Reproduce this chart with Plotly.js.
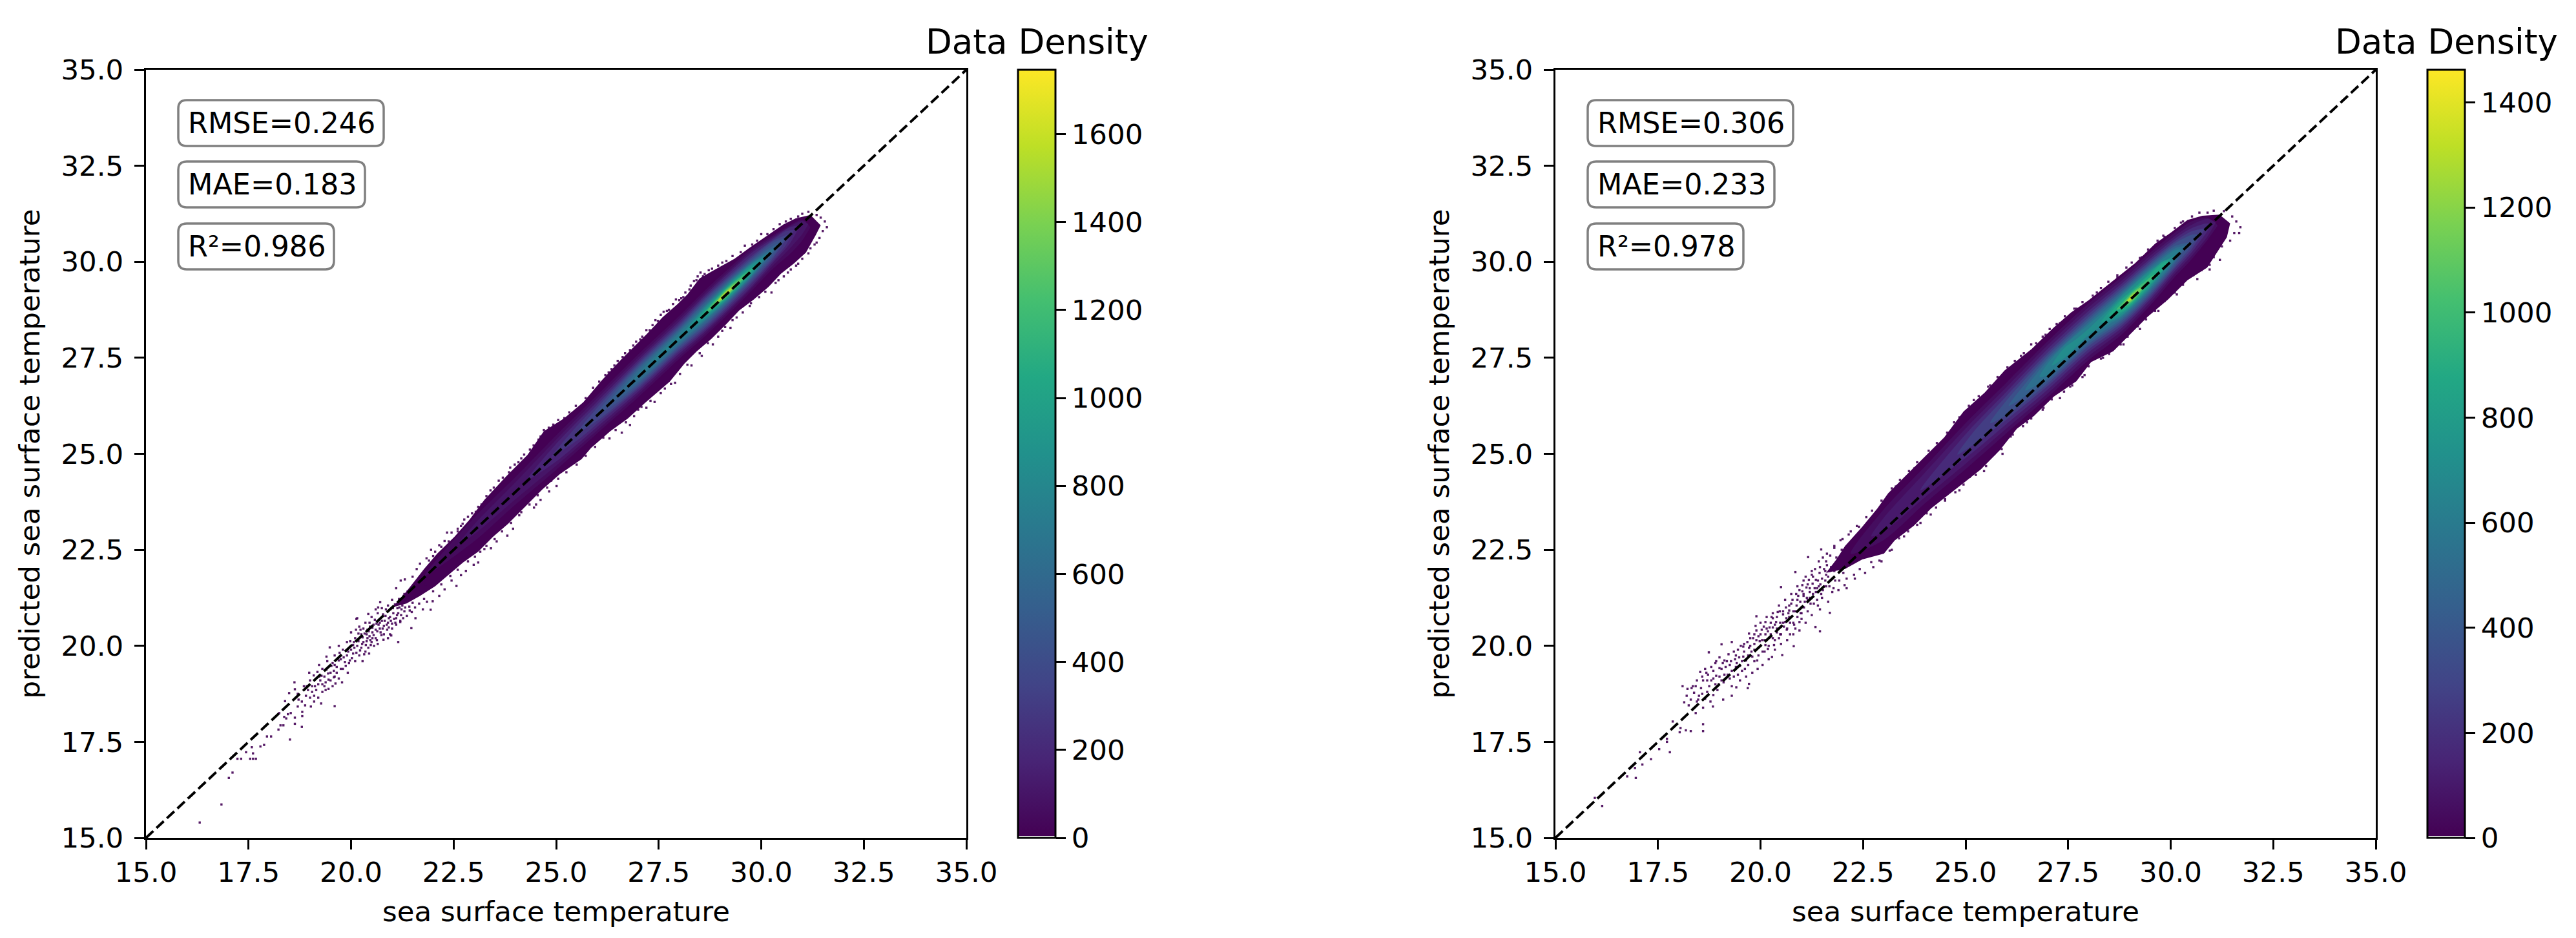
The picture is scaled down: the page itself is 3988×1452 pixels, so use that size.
<!DOCTYPE html>
<html><head><meta charset="utf-8">
<script src="https://cdn.plot.ly/plotly-3.0.1.min.js"></script>
<style>html,body{margin:0;padding:0;background:#fff}</style>
</head><body><div id="chart" style="width:3988px;height:1452px"></div>
<script>
// ---------- values ----------
const axisTicks = [15,17.5,20,22.5,25,27.5,30,32.5,35];
const metricsA = ['RMSE=0.246','MAE=0.183','R²=0.986'];
const metricsB = ['RMSE=0.306','MAE=0.233','R²=0.978'];
const densityTicksA = [0,200,400,600,800,1000,1200,1400,1600];
const densityTicksB = [0,200,400,600,800,1000,1200,1400];
const densityMaxA = 1746;
const densityMaxB = 1462;
const sparseDensity = 8;

// outer limit of the solid band (x, y vertices)
const outerA = [[21.0,21.0],[21.3,21.35],[21.5,21.62],[21.78,22.0],[22.1,22.4],[22.52,22.84],[22.89,23.29],[23.25,23.8],[23.78,24.41],[24.3,24.97],[24.7,25.59],[25.19,25.92],[25.66,26.34],[26.12,26.92],[26.57,27.44],[26.94,27.84],[27.23,28.14],[27.6,28.56],[27.96,28.9],[28.2,29.15],[28.5,29.57],[28.86,29.79],[29.35,30.08],[29.71,30.36],[30.07,30.63],[30.54,30.97],[30.84,31.13],[31.2,31.22],[31.45,30.95],[31.33,30.7],[31.09,30.24],[30.8,29.96],[30.48,29.69],[30.18,29.35],[29.82,29.02],[29.46,28.73],[29.16,28.39],[28.79,28.0],[28.43,27.67],[28.13,27.35],[27.77,26.88],[27.17,26.33],[26.75,25.92],[26.32,25.59],[25.85,25.15],[25.62,24.86],[25.09,24.47],[24.67,24.08],[24.25,23.63],[23.83,23.18],[23.46,22.84],[23.1,22.45],[22.73,22.17],[22.36,21.84],[22.05,21.55],[21.68,21.3],[21.35,21.1]];
const outerB = [[21.6,21.9],[21.85,22.25],[22.06,22.6],[22.48,23.1],[22.85,23.58],[23.11,23.97],[23.53,24.42],[24.0,24.92],[24.48,25.43],[24.95,26.1],[25.47,26.6],[25.95,27.17],[26.61,27.73],[27.15,28.29],[27.57,28.68],[28.0,29.0],[28.54,29.46],[29.14,29.97],[29.62,30.47],[29.99,30.75],[30.41,31.09],[30.77,31.2],[31.19,31.23],[31.45,31.0],[31.37,30.64],[31.13,30.25],[30.89,29.85],[30.41,29.52],[29.93,29.01],[29.44,28.57],[29.02,28.12],[28.6,27.67],[28.06,27.39],[27.7,26.89],[27.15,26.49],[26.67,25.99],[26.25,25.65],[25.83,25.09],[25.37,24.59],[24.69,24.03],[24.16,23.58],[23.74,23.13],[23.27,22.74],[23.01,22.4],[22.48,22.25],[22.06,22.0],[21.85,21.95]];

// density contours: each row is [x, lower y, upper y]
const levelsA = [50,100,175,260,350,440,525,610,700,790,875,1000,1150,1300,1450,1600];
const contoursA = [
[[21.8,21.83,21.83],[23,22.72,23.34],[24,23.67,24.39],[25,24.58,25.48],[26,25.53,26.53],[27,26.47,27.59],[28,27.47,28.59],[28.6,28.03,29.23],[29.2,28.64,29.82],[29.8,29.28,30.38],[30.3,29.83,30.7],[30.7,30.2,30.95],[31,30.55,31.1],[31.2,30.9,30.9]],
[[22.6,22.63,22.63],[23,22.9,23.16],[24,23.81,24.25],[25,24.69,25.37],[26,25.61,26.45],[27,26.55,27.51],[28,27.54,28.52],[28.6,28.1,29.16],[29.2,28.71,29.75],[29.8,29.35,30.31],[30.3,29.92,30.66],[30.7,30.35,30.92],[31,30.72,31.07],[31.15,30.98,30.98]],
[[24.3,24.33,24.33],[25,24.8,25.26],[26,25.7,26.36],[27,26.62,27.44],[28,27.61,28.45],[28.6,28.16,29.1],[29.2,28.76,29.7],[29.8,29.4,30.26],[30.3,30.0,30.62],[30.7,30.48,30.9],[30.95,30.95,30.95]],
[[24.9,24.93,24.93],[25.5,25.34,25.72],[26,25.78,26.28],[27,26.68,27.38],[28,27.67,28.39],[28.6,28.21,29.05],[29.2,28.82,29.64],[29.8,29.47,30.19],[30.3,30.05,30.58],[30.6,30.43,30.8],[30.8,30.83,30.83]],
[[25.5,25.53,25.53],[26,25.86,26.2],[27,26.73,27.33],[28,27.72,28.34],[28.6,28.26,29.0],[29.2,28.87,29.59],[29.8,29.52,30.14],[30.3,30.11,30.55],[30.7,30.73,30.73]],
[[25.95,25.98,25.98],[26.5,26.34,26.72],[27,26.78,27.28],[28,27.77,28.29],[28.6,28.31,28.95],[29.2,28.91,29.55],[29.8,29.57,30.09],[30.3,30.16,30.5],[30.6,30.63,30.63]],
[[26.25,26.28,26.28],[26.7,26.57,26.89],[27,26.83,27.23],[28,27.81,28.25],[28.6,28.35,28.91],[29.2,28.95,29.51],[29.8,29.61,30.05],[30.2,30.1,30.36],[30.5,30.53,30.53]],
[[26.55,26.58,26.58],[27,26.88,27.18],[28,27.85,28.21],[28.6,28.4,28.86],[29.2,28.98,29.48],[29.8,29.64,30.02],[30.1,30.02,30.24],[30.4,30.43,30.43]],
[[26.85,26.88,26.88],[27.2,27.14,27.32],[27.6,27.52,27.74],[28,27.9,28.16],[28.6,28.44,28.82],[29.2,29.01,29.45],[29.8,29.67,29.99],[30.3,30.33,30.33]],
[[27.3,27.33,27.33],[27.7,27.69,27.77],[28.1,28.08,28.18],[28.6,28.47,28.79],[29.2,29.04,29.42],[29.8,29.69,29.97],[30.15,30.18,30.18]],
[[28.2,28.23,28.23],[28.6,28.51,28.75],[29.2,29.06,29.4],[29.8,29.72,29.94],[30.05,30.08,30.08]],
[[28.38,28.41,28.41],[28.7,28.64,28.82],[29.15,29.04,29.32],[29.7,29.65,29.81],[29.93,29.96,29.96]],
[[28.55,28.58,28.58],[28.8,28.76,28.9],[29.15,29.07,29.3],[29.55,29.51,29.65],[29.8,29.83,29.83]],
[[28.7,28.73,28.73],[28.92,28.9,29.0],[29.15,29.09,29.27],[29.42,29.4,29.5],[29.6,29.63,29.63]],
[[28.82,28.85,28.85],[28.96,28.95,29.03],[29.13,29.1,29.22],[29.3,29.29,29.37],[29.42,29.45,29.45]],
[[28.96,28.99,28.99],[29.13,29.125,29.195],[29.3,29.33,29.33]]
];
const levelsB = [50,100,175,260,350,440,525,610,700,790,875,1000,1150,1300,1400];
const contoursB = [
[[22.2,22.4,22.4],[23,22.75,23.55],[24,23.7,24.66],[25,24.6,25.8],[26,25.54,26.86],[27,26.47,27.93],[28,27.44,28.92],[28.8,28.1,29.6],[29.5,28.86,30.24],[30.1,29.6,30.76],[30.5,30.05,31.05],[30.9,30.57,31.15],[31.15,30.95,30.95]],
[[22.7,22.85,22.85],[23,22.97,23.33],[24,23.86,24.5],[25,24.74,25.66],[26,25.66,26.74],[27,26.57,27.83],[28,27.54,28.82],[28.8,28.19,29.51],[29.5,28.94,30.16],[30.1,29.69,30.67],[30.5,30.14,30.96],[30.9,30.66,31.12],[31.1,31.02,31.02]],
[[23.9,24.05,24.05],[25,24.89,25.51],[26,25.78,26.62],[27,26.67,27.73],[28,27.64,28.72],[28.8,28.27,29.43],[29.5,29.02,30.08],[30.1,29.76,30.6],[30.5,30.23,30.87],[30.9,30.8,31.0],[31.0,30.95,30.95]],
[[24.8,24.98,24.98],[25.2,25.24,25.58],[26,25.89,26.51],[27,26.76,27.64],[28,27.72,28.64],[28.8,28.34,29.36],[29.5,29.08,30.02],[30.1,29.83,30.53],[30.5,30.31,30.79],[30.85,30.88,30.88]],
[[25.6,25.8,25.8],[26,26.01,26.39],[27,26.83,27.57],[28,27.8,28.56],[28.8,28.4,29.3],[29.5,29.14,29.96],[30.1,29.88,30.48],[30.5,30.4,30.7],[30.7,30.72,30.72]],
[[26.05,26.25,26.25],[26.5,26.53,26.89],[27,26.9,27.5],[28,27.86,28.5],[28.8,28.46,29.24],[29.5,29.19,29.91],[30.1,29.95,30.41],[30.45,30.5,30.5]],
[[26.45,26.65,26.65],[27,26.97,27.43],[28,27.93,28.43],[28.8,28.51,29.19],[29.5,29.24,29.86],[30.1,30.01,30.35],[30.35,30.42,30.42]],
[[26.8,27.0,27.0],[27,27.05,27.35],[27.4,27.4,27.82],[28,27.99,28.37],[28.5,28.37,28.83],[28.8,28.56,29.14],[29.5,29.29,29.81],[30.1,30.06,30.3],[30.25,30.33,30.33]],
[[27.1,27.3,27.3],[27.4,27.49,27.75],[27.7,27.79,27.99],[28,28.1,28.26],[28.5,28.43,28.77],[28.8,28.6,29.1],[29.5,29.33,29.77],[30.1,30.18,30.18]],
[[28.3,28.42,28.42],[28.5,28.49,28.71],[28.8,28.66,29.04],[29.05,28.87,29.27],[29.5,29.38,29.72],[29.8,29.75,30.01],[30.0,30.08,30.08]],
[[28.5,28.6,28.6],[28.8,28.7,29.0],[29.05,28.9,29.24],[29.5,29.42,29.68],[29.8,29.8,29.96],[29.95,30.02,30.02]],
[[28.68,28.75,28.75],[28.85,28.81,28.97],[29.05,28.94,29.2],[29.35,29.3,29.46],[29.5,29.5,29.6],[29.62,29.68,29.68]],
[[28.83,28.87,28.87],[28.95,28.92,29.04],[29.05,28.98,29.16],[29.2,29.15,29.29],[29.34,29.37,29.37]],
[[28.93,28.96,28.96],[29.05,29.02,29.12],[29.2,29.23,29.23]],
[[29.0,29.02,29.02],[29.05,29.05,29.09],[29.1,29.12,29.12]]
];

// sparse single points
const sparseA = [[16.31,15.4],[16.84,15.87],[17.02,16.56],[17.11,16.7],[17.23,17.06],[17.32,17.06],[17.44,17.23],[17.54,17.06],[17.61,17.06],[17.68,17.06],[17.61,17.2],[17.58,17.36],[17.79,17.38],[17.88,17.42],[17.95,17.64],[18.05,17.64],[18.51,17.56],[18.23,17.82],[18.28,17.93],[18.35,17.93],[18.63,17.97],[18.8,17.89],[18.25,18.25],[18.46,18.22],[18.53,18.25],[18.81,18.28],[18.81,18.17],[18.63,18.13],[18.42,18.11],[18.37,18.15],[18.39,18.56],[18.49,18.77],[18.63,18.87],[18.62,19.05],[18.7,18.42],[19.02,18.42],[19.27,18.5],[19.6,18.43],[18.85,18.95],[18.7,18.75],[18.8,18.55],[18.9,18.7],[18.95,18.85],[19.0,18.65],[19.1,18.55],[19.2,18.65],[19.1,18.7],[19.3,18.8],[19.15,18.85],[19.05,18.95],[19.0,19.1],[19.2,19.0],[19.35,18.95],[19.45,18.88],[19.55,18.95],[19.25,19.1],[19.35,19.2],[19.5,19.1],[19.6,19.2],[19.7,19.15],[19.78,19.05],[19.3,19.4],[19.5,19.3],[19.42,19.6],[19.65,19.45],[19.8,19.4],[19.92,19.3],[19.55,19.55],[19.6,19.75],[19.75,19.65],[19.95,19.55],[20.1,19.6],[20.28,19.6],[19.7,20.0],[19.8,19.9],[19.9,19.75],[20.05,19.8],[20.2,19.75],[20.35,19.85],[20.15,20.0],[19.9,20.1],[20.0,20.35],[20.1,20.2],[20.25,19.95],[20.42,19.95],[20.3,20.1],[20.45,20.25],[20.2,20.5],[20.35,20.6],[20.55,20.55],[20.6,20.2],[20.7,20.45],[20.8,20.3],[20.9,20.6],[21.0,20.45],[20.5,20.75],[20.65,20.85],[20.85,20.95],[21.05,20.7],[21.15,20.85],[20.15,20.72],[19.48,19.96],[18.98,19.3],[19.09,19.23],[19.18,19.32],[19.22,19.5],[19.4,19.72],[20.05,20.02],[20.12,20.42],[20.25,20.3],[20.4,20.42],[20.52,20.35],[20.62,20.58],[20.75,20.65],[20.95,20.75],[21.2,20.65],[20.9,21.05],[21.0,21.2],[21.3,21.35],[21.4,21.25],[20.78,20.82],[20.5,20.1],[20.65,20.05],[20.9,20.2],[21.1,20.55],
[20.13,20.7],[20.42,20.83],[20.66,21.0],[20.71,21.14],[21.1,21.5],[21.21,21.7],[21.31,21.73],[21.68,22.14],[21.84,22.28],[22.0,22.34],[22.28,22.73],[22.34,22.95],[22.68,23.12],[22.76,23.29],[23.04,23.49],[23.18,23.68],[23.88,24.64],[23.99,24.72],[24.36,25.11],[24.57,25.37],[24.7,25.62],[24.93,25.76],[25.2,25.93],[21.5,21.8],[21.6,22.0],[21.95,22.5],[22.15,22.62],[22.45,22.95],[22.6,23.05],[22.95,23.45],[23.4,24.05],[23.6,24.3],[24.15,24.88],[24.5,25.2],
[23.81,22.87],[23.41,22.54],[23.1,22.17],[23.15,22.45],[22.99,22.11],[22.57,21.56],[22.68,21.84],[22.28,21.47],[21.94,20.94],[21.99,21.16],[21.57,20.72],[21.47,20.46],[21.15,20.1],[20.98,20.27],[20.79,20.16],[21.75,20.95],[21.85,21.15],[22.15,21.3],[22.45,21.7],[22.8,21.95],[23.3,22.6],[23.55,22.72],[24.51,23.68],[24.83,24.02],[25.01,24.16],[24.46,23.6],[24.62,23.8],[24.88,24.3],[24.1,23.4],[23.95,23.05],
[26.2,27.05],[26.35,27.2],[26.5,27.42],[26.68,27.62],[26.8,27.7],[26.95,27.92],[27.1,28.05],[27.2,28.22],[27.35,28.35],[27.42,28.48],[27.55,28.62],[27.62,28.7],[27.75,28.75],[27.85,28.9],[27.92,29.02],[28.05,29.05],[28.15,29.2],[28.28,29.38],[28.36,29.5],[28.45,29.62],[28.52,29.72],[28.62,29.68],[28.72,29.78],[29.05,29.98],[29.6,30.42],[30.0,30.72],[30.6,31.05],[31.0,31.25],[31.15,31.3],[31.35,31.22],[31.45,31.15],[31.55,31.05],[31.6,30.9],[31.5,30.8],[31.42,30.62],[31.35,30.5],[31.2,30.35],[29.72,28.85],[29.4,28.55],[29.25,28.28],[30.25,29.2],[30.42,29.52],[30.65,29.72],[30.9,29.95],[29.05,28.2],[28.82,27.85],[28.55,27.55],[28.3,27.3],[27.9,26.85],[27.65,26.7],[27.4,26.35],[27.2,26.2],[27.0,26.15],[26.8,25.75],[26.6,25.55],[26.3,25.4]];
const edgeA = [[21.9,22.22],[22.05,22.45],[22.2,22.58],[22.38,22.72],[22.6,22.98],[22.72,23.18],[22.85,23.36],[23.1,23.62],[23.3,23.9],[23.48,24.12],[23.7,24.38],[23.85,24.52],[24.08,24.78],[24.22,24.98],[24.45,25.22],[24.62,25.45],[24.82,25.68],[25.05,25.88],[25.32,26.08],[25.48,26.25],[25.72,26.45],[25.9,26.72],[26.05,26.88],[26.28,27.12],[26.42,27.3],[26.62,27.52],[26.88,27.82],[27.05,27.98],[27.28,28.22],[27.48,28.46],[27.7,28.72],[28.0,29.0],[28.1,29.08],[28.25,29.28],[28.42,29.52],[28.58,29.62],[28.8,29.82],[28.95,29.9],[29.15,30.02],[29.3,30.15],[29.5,30.25],[29.78,30.45],[29.9,30.55],[30.15,30.72],[30.3,30.85],[30.45,30.98],[30.72,31.12],[30.9,31.18],
[31.3,30.45],[31.15,30.22],[31.0,30.08],[30.85,29.9],[30.72,29.8],[30.55,29.62],[30.35,29.45],[30.1,29.22],[29.95,29.08],[29.75,28.92],[29.55,28.68],[29.3,28.48],[29.12,28.3],[28.95,28.05],[28.7,27.88],[28.5,27.62],[28.2,27.32],[28.02,27.08],[27.8,26.82],[27.55,26.58],[27.3,26.38],[27.08,26.22],[26.9,25.98],[26.7,25.82],[26.45,25.62],[26.15,25.42],[25.95,25.18],[25.72,24.95],[25.5,24.72],[25.25,24.52],[25.05,24.35],[24.78,24.12],[24.55,23.92],[24.35,23.68],[24.15,23.48],[23.9,23.2],[23.68,22.98],[23.5,22.78],[23.25,22.52],[23.02,22.32],[22.85,22.2],[22.6,21.98],[22.42,21.82],[22.2,21.6],[22.0,21.42],
[20.3,20.45],[20.38,20.3],[20.46,20.5],[20.52,20.2],[20.58,20.68],[20.64,20.38],[20.7,20.6],[20.74,20.28],[20.8,20.52],[20.84,20.78],[20.88,20.42],[20.92,20.72],[20.96,20.95],[21.0,20.58],[21.03,20.85],[21.07,21.08],[21.1,20.72],[21.13,20.98],[21.17,21.22],[21.2,20.62],[21.22,20.8],[21.25,21.05],[21.28,21.3],[21.3,20.9],[21.33,21.15],[21.36,20.78],[21.38,21.42],[21.42,21.02],[21.45,21.28],[21.48,20.88],[21.5,21.12],[21.53,21.5],[21.56,21.0],[21.6,21.32],[21.62,21.68],[21.66,21.1],[21.7,21.45],[21.74,21.82],[21.78,21.22],[21.82,21.6],[20.95,20.3],[20.75,20.98],[20.6,20.95],[20.45,20.6],[19.98,20.12],[20.02,19.68],[20.08,19.95],[20.18,20.32],[20.22,19.88],[20.28,20.22],[20.32,19.78],[20.36,20.02],[20.4,20.2],[20.44,19.8],[20.48,20.02],[20.56,20.0],[19.85,19.58],[19.72,19.82],[19.58,19.35],[19.44,19.28],[19.38,19.05],[19.28,19.22],[19.62,19.02]];
const cloudA = [[20.0,19.9],[20.07,20.1],[20.13,19.82],[20.18,20.12],[20.23,20.42],[20.27,20.05],[20.33,20.32],[20.38,20.12],[20.43,20.38],[20.47,20.15],[20.52,20.47],[20.55,20.28],[20.6,20.42],[20.63,20.15],[20.67,20.55],[20.72,20.35],[20.77,20.45],[20.82,20.65],[20.87,20.55],[20.92,20.48],[20.97,20.65],[21.02,20.98],[21.08,20.6],[21.12,20.8],[21.18,21.0],[21.23,20.95],[21.27,20.72],[21.32,21.0],[21.37,21.2],[21.43,20.92],[19.6,19.5],[19.65,19.3],[19.7,19.62],[19.75,19.4],[19.82,19.7],[19.87,19.48],[19.93,19.85],[19.97,19.62],[19.4,19.38],[19.45,19.12],[19.52,19.48],[19.58,19.18],[19.3,19.0],[19.22,19.2],[19.12,18.95],[19.05,18.8],[19.38,18.85],[18.92,18.95],[18.72,18.6],[18.88,18.45]];
const sparseB = [[16.14,15.83],[15.96,16.04],[16.96,16.56],[16.75,16.6],[16.94,16.82],[17.12,16.91],[17.33,17.05],[17.06,17.23],[17.53,17.31],[17.79,17.23],[17.72,17.5],[17.72,17.58],[18.03,17.75],[18.18,17.8],[18.3,17.78],[18.6,17.78],[18.6,17.96],[18.05,17.86],[17.86,18.03],[18.14,18.53],[18.1,18.95],[18.32,18.9],[18.42,18.25],[18.6,18.39],[18.84,18.42],[19.09,18.6],[19.3,18.7],[19.69,18.9],[19.72,19.01],[19.41,18.92],[18.53,19.32],[18.74,19.83],[19.05,20.04],[19.3,20.1],[19.93,19.4],[20.28,19.71],[20.53,19.76],[20.81,19.99],[21.34,20.49],[21.45,20.38],[21.69,20.86],[20.5,21.53],[20.85,21.92],[21.16,22.31],[21.48,22.51],[19.9,20.77],[19.72,20.32],
[18.2,18.7],[18.25,18.45],[18.3,18.6],[18.38,18.78],[18.45,18.55],[18.5,18.7],[18.55,18.9],[18.65,18.62],[18.7,18.8],[18.78,18.55],[18.85,18.72],[18.9,19.0],[18.6,19.1],[18.72,19.25],[18.8,19.1],[18.95,18.85],[19.0,19.2],[19.05,19.4],[19.1,19.05],[18.85,19.35],[18.65,19.4],[18.9,19.55],[19.0,19.7],[19.12,19.62],[19.2,19.25],[19.25,19.5],[19.3,18.95],[19.35,19.2],[19.4,19.45],[19.4,19.75],[19.45,19.9],[19.5,19.1],[19.55,19.35],[19.55,19.6],[19.6,19.85],[19.6,20.05],[19.65,19.2],[19.7,19.5],[19.7,19.75],[19.75,20.0],[19.75,20.2],[19.8,19.3],[19.85,19.6],[19.85,19.9],[19.9,20.15],[19.9,20.4],[19.95,19.75],[20.0,20.0],[20.0,20.3],[20.0,20.6],[20.05,19.5],[20.1,19.85],[20.1,20.15],[20.15,20.45],[20.15,20.75],[20.2,19.65],[20.2,20.0],[20.25,20.3],[20.25,20.6],[20.3,20.85],[20.35,19.9],[20.35,20.15],[20.4,20.45],[20.4,20.75],[20.45,21.05],[20.5,20.05],[20.5,20.3],[20.55,20.6],[20.55,20.9],[20.6,21.2],[20.65,20.15],[20.65,20.45],[20.7,20.75],[20.7,21.05],[20.75,21.35],[20.8,20.3],[20.8,20.6],[20.85,20.9],[20.9,21.2],[20.9,21.55],[20.95,20.4],[21.0,20.7],[21.0,21.0],[21.05,21.35],[21.05,21.7],[21.1,20.6],[21.15,20.9],[21.15,21.2],[21.2,21.5],[21.25,21.85],[21.25,20.8],[21.3,21.1],[21.35,21.4],[21.4,21.7],[21.45,22.05],[21.45,20.95],[21.5,21.25],[21.55,21.55],[21.6,21.85],[21.6,22.2],[21.65,21.15],[21.75,21.4],[21.8,22.55],[21.9,21.45],[22.1,21.5],[21.95,22.75],[22.15,22.9],[22.3,21.75],[22.4,23.1],[22.55,21.9],[22.7,23.32],[22.75,22.05],[22.95,22.2],[23.0,23.75],[23.2,22.5],[23.3,24.15],[23.5,22.85],[23.75,24.62],[23.9,23.2],[24.2,25.05],[24.15,23.42],[24.6,25.55],[24.5,23.78],[24.85,25.95],[24.85,24.05],[25.2,26.4],[25.1,24.4],[25.55,26.75],[25.45,24.55],[25.9,25.0],[26.1,27.1],[26.15,25.5],[26.35,27.55],[26.5,25.82],[26.6,27.85],[26.9,26.2],[26.95,28.1],[27.3,28.4],[27.3,26.45],[27.55,26.75],[27.7,28.78],[27.9,27.05],[28.2,29.2],[28.35,27.5],[28.7,29.6],[28.85,27.85],[29.3,30.12],[29.25,28.25],[29.7,28.72],[29.85,30.65],[30.15,29.15],[30.3,31.05],[30.65,29.55],[30.7,31.28],[31.05,31.33],[30.95,29.8],[31.2,30.05],[31.3,31.32],[31.5,31.18],[31.6,31.05],[31.7,30.9],[31.55,30.75],[31.67,30.75],[31.45,30.55]];
const edgeB = [[22.0,22.78],[22.2,22.98],[22.35,23.12],[22.58,23.35],[22.72,23.52],[22.95,23.78],[23.2,24.1],[23.4,24.32],[23.62,24.55],[23.82,24.78],[24.1,25.08],[24.3,25.28],[24.55,25.55],[24.72,25.82],[25.08,26.25],[25.32,26.5],[25.6,26.78],[25.78,27.0],[26.02,27.25],[26.2,27.42],[26.42,27.62],[26.72,27.88],[26.88,28.05],[27.05,28.25],[27.22,28.38],[27.42,28.58],[27.65,28.78],[27.85,28.95],[28.1,29.12],[28.3,29.32],[28.48,29.48],[28.7,29.65],[28.92,29.85],[29.05,29.98],[29.25,30.1],[29.45,30.32],[29.68,30.55],[29.82,30.68],[30.1,30.88],[30.25,31.02],[30.52,31.18],[30.9,31.28],
[31.25,30.4],[31.05,30.12],[30.95,29.92],[30.75,29.78],[30.55,29.65],[30.3,29.4],[30.1,29.2],[29.85,28.98],[29.62,28.72],[29.4,28.5],[29.2,28.32],[28.95,28.05],[28.78,27.85],[28.5,27.6],[28.3,27.48],[28.0,27.28],[27.85,27.0],[27.6,26.78],[27.4,26.62],[27.1,26.42],[26.88,26.15],[26.6,25.92],[26.4,25.72],[26.1,25.45],[25.88,25.12],[25.7,25.0],[25.5,24.68],[25.25,24.45],[24.95,24.2],[24.75,24.0],[24.5,23.82],[24.28,23.6],[24.05,23.45],[23.82,23.15],[23.6,22.98],[23.38,22.8],[23.15,22.48],[22.9,22.22],[22.7,22.18],[22.42,22.0],[22.28,21.85],[22.05,21.58],
[21.8,22.6],[21.85,22.3],[21.9,22.0],[21.92,21.7],[21.98,22.5],[22.0,22.2],[22.02,21.9],[22.1,21.75],[21.7,22.35],[21.72,22.05],[21.75,21.75],[21.78,21.5],[21.62,22.4],[21.62,22.1],[21.65,21.8],[21.68,21.55],[21.52,22.3],[21.55,22.0],[21.58,21.7],[21.42,22.2],[21.44,21.9],[21.46,21.6],[21.48,21.35],[21.33,22.0],[21.35,21.72],[21.38,21.5],[21.38,21.2],[21.25,21.95],[21.27,21.62],[21.28,21.35],[21.18,21.72],[21.2,21.4],[21.22,21.1],[21.1,21.8],[21.12,21.52],[21.13,21.25],[21.02,21.58],[21.05,21.3],[21.06,21.0],[20.95,21.45],[20.97,21.15],[20.98,20.85],[20.87,21.35],[20.88,21.05],[20.9,20.75],[20.78,21.2],[20.8,20.9],[20.82,20.55],[20.7,20.92],[20.72,20.6],[20.62,21.0],[20.63,20.72],[20.64,20.42],[20.55,20.82],[20.57,20.5],[20.47,20.9],[20.48,20.6],[20.48,20.3],[20.38,20.62],[20.4,20.35],[20.3,20.72],[20.3,20.48],[20.3,20.2],[20.22,20.48],[20.22,20.22],[20.12,20.62],[20.12,20.3],[20.12,20.02],[20.03,20.42],[20.04,20.15],[19.95,20.25],[19.95,19.95],[19.85,20.3],[19.85,20.05],[19.78,19.85],[19.65,19.62],[19.58,19.98],[19.48,19.7],[19.42,19.55],[19.35,19.85],[19.28,19.6],[19.22,19.78],[19.15,19.45],[19.12,19.25],[19.0,19.42],[18.92,19.22],[18.8,19.45],[18.7,19.1],[18.58,19.2],[18.42,18.95],[18.48,18.6],[18.35,18.95],[18.22,18.88]];
const cloudB = [[21.15,21.6],[21.2,21.25],[21.28,21.8],[21.32,21.5],[21.4,21.05],[21.42,21.55],[21.5,21.75],[21.52,21.45],[21.58,21.95],[21.6,21.55],[21.68,21.95],[21.7,21.7],[21.8,21.95],[21.82,21.7],[20.6,20.62],[20.68,20.85],[20.72,20.3],[20.75,21.1],[20.85,20.45],[20.92,21.3],[20.95,20.62],[21.0,20.85],[21.02,21.42],[21.08,21.15],[20.5,20.5],[20.42,20.88],[20.45,20.2],[20.35,20.55],[20.33,20.02],[20.27,20.75],[20.18,20.38],[20.18,19.92],[20.08,20.5],[20.05,19.85],[19.98,20.12],[19.92,19.62],[19.88,20.52],[19.82,20.2],[19.8,19.72],[19.72,19.95],[19.68,20.1],[19.62,19.4],[19.58,19.72],[19.52,20.0],[19.5,19.48],[19.45,19.25],[19.38,19.65],[19.3,19.35],[19.25,19.15],[19.18,19.6],[19.08,19.55],[19.05,19.1],[18.98,19.0],[18.92,19.6],[18.85,19.15],[18.75,18.95],[18.68,19.3],[18.58,18.75],[18.45,19.1]];

// ---------- drawing ----------
const W = 3988, H = 1452;
const viridis = ['#440154','#482475','#414487','#355f8d','#2a788e','#21918c','#22a884','#44bf70','#7ad151','#bddf26','#fde725'];
const axisFont = {family:'DejaVu Sans, sans-serif', size:43.5, color:'#000'};
const labelFont = {family:'DejaVu Sans, sans-serif', size:44.5, color:'#000'};
const titleFont = {family:'DejaVu Sans, sans-serif', size:53, color:'#000'};
const hex = c => [1,3,5].map(i => parseInt(c.slice(i,i+2),16));
function colorAt(f){
  const p = Math.min(f,1)*10, i = Math.min(Math.floor(p),9), t = p-i;
  const a = hex(viridis[i]), b = hex(viridis[i+1]);
  return 'rgb('+a.map((v,k)=>Math.round(v+(b[k]-v)*t)).join(',')+')';
}
const barScale = [[0,'#ffffff'],[0.0025,'#ffffff'],[0.0025,viridis[0]]].concat(viridis.slice(1).map((c,i)=>[(i+1)/10,c]));

const data = [];
function panel(xa, ya, outer, levels, contours, sparse, maxV, ticks, barX){
  data.push({type:'scatter',mode:'lines',xaxis:xa,yaxis:ya,x:outer.map(p=>p[0]).concat(outer[0][0]),y:outer.map(p=>p[1]).concat(outer[0][1]),
    fill:'toself',fillcolor:colorAt(0),line:{width:0},hoverinfo:'skip',showlegend:false});
  levels.forEach((lv,i)=>{
    const rows = contours[i], back = rows.slice().reverse();
    data.push({type:'scatter',mode:'lines',xaxis:xa,yaxis:ya,
      x:rows.map(r=>r[0]).concat(back.map(r=>r[0])),
      y:rows.map(r=>r[2]).concat(back.map(r=>r[1])),
      fill:'toself',fillcolor:colorAt(lv/maxV),line:{width:0,shape:'spline',smoothing:0.8},hoverinfo:'skip',showlegend:false});
  });
  data.push({type:'scatter',mode:'markers',xaxis:xa,yaxis:ya,x:sparse.map(p=>p[0]),y:sparse.map(p=>p[1]),showlegend:false,
    marker:{symbol:'square',size:3.4,opacity:0.9,color:sparse.map(()=>sparseDensity),colorscale:barScale,cmin:0,cmax:maxV,showscale:true,
      colorbar:{x:barX/W,xanchor:'left',xpad:0,y:155/H,yanchor:'bottom',ypad:0,lenmode:'pixels',len:1189,thicknessmode:'pixels',thickness:58,
        outlinewidth:3,outlinecolor:'#000',borderwidth:0,ticks:'outside',ticklen:15,tickwidth:3,tickcolor:'#000',tickmode:'array',tickvals:ticks,ticktext:ticks.map(String),tickfont:axisFont}}});
  data.push({type:'scatter',mode:'lines',xaxis:xa,yaxis:ya,x:[15,35],y:[15,35],line:{color:'#000',width:4,dash:'15.5px,6.7px'},hoverinfo:'skip',showlegend:false});
}
panel('x','y',outerA,levelsA,contoursA,sparseA.concat(edgeA,cloudA),densityMaxA,densityTicksA,1576);
panel('x2','y2',outerB,levelsB,contoursB,sparseB.concat(edgeB,cloudB),densityMaxB,densityTicksB,3758);

function xAxis(l,anchor){return {domain:[l/W,(l+1270)/W],anchor,range:[15,35],tickmode:'array',tickvals:axisTicks,ticktext:axisTicks.map(v=>v.toFixed(1)),
  ticks:'outside',ticklen:15,tickwidth:3,tickcolor:'#000',showline:true,mirror:true,linewidth:3,linecolor:'#000',showgrid:false,zeroline:false,tickfont:axisFont,ticklabelstandoff:-2,
  title:{text:'sea surface temperature',font:axisFont,standoff:22}};}
function yAxis(anchor){return {domain:[155/H,1344/H],anchor,range:[15,35],tickmode:'array',tickvals:axisTicks,ticktext:axisTicks.map(v=>v.toFixed(1)),
  ticks:'outside',ticklen:15,tickwidth:3,tickcolor:'#000',showline:true,mirror:true,linewidth:3,linecolor:'#000',showgrid:false,zeroline:false,tickfont:axisFont,ticklabelstandoff:8,
  title:{text:'predicted sea surface temperature',font:axisFont,standoff:20}};}

const boxW = [318,289,241], boxTop = [155,250,346], boxH = 71, r = 13;
const shapes = [], annotations = [];
[[0,metricsA],[2182,metricsB]].forEach(([dx,labels])=>{
  labels.forEach((t,i)=>{
    const x0 = 276+dx, x1 = x0+boxW[i], y0 = boxTop[i], y1 = y0+boxH;
    const X = v=>(v/W).toFixed(5), Y = v=>(1-v/H).toFixed(5);
    shapes.push({type:'path',xref:'paper',yref:'paper',fillcolor:'#fff',line:{color:'#808080',width:3.5},
      path:`M${X(x0+r)},${Y(y0)} L${X(x1-r)},${Y(y0)} Q${X(x1)},${Y(y0)} ${X(x1)},${Y(y0+r)} L${X(x1)},${Y(y1-r)} Q${X(x1)},${Y(y1)} ${X(x1-r)},${Y(y1)} L${X(x0+r)},${Y(y1)} Q${X(x0)},${Y(y1)} ${X(x0)},${Y(y1-r)} L${X(x0)},${Y(y0+r)} Q${X(x0)},${Y(y0)} ${X(x0+r)},${Y(y0)} Z`});
    annotations.push({xref:'paper',yref:'paper',x:(x0+13)/W,y:1-(y0+boxH/2)/H,xanchor:'left',yanchor:'middle',text:t,showarrow:false,font:labelFont});
  });
  annotations.push({xref:'paper',yref:'paper',x:(1605+dx)/W,y:1-64/H,xanchor:'center',yanchor:'middle',text:'Data Density',showarrow:false,font:titleFont});
});

Plotly.newPlot('chart',data,{width:W,height:H,margin:{l:0,r:0,t:0,b:0},paper_bgcolor:'#fff',plot_bgcolor:'#fff',showlegend:false,
  xaxis:xAxis(226,'y'),yaxis:yAxis('x'),xaxis2:xAxis(2408,'y2'),yaxis2:yAxis('x2'),shapes,annotations},{displayModeBar:false,staticPlot:true});
</script></body></html>
